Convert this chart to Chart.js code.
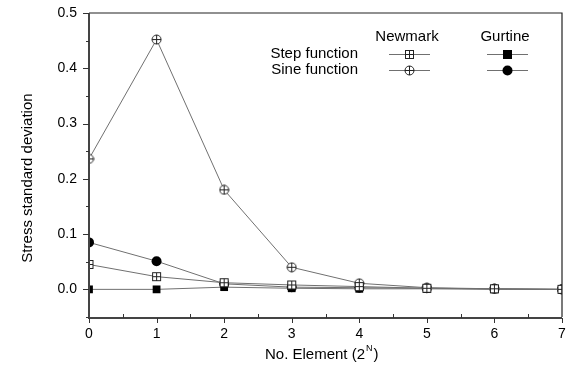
<!DOCTYPE html>
<html>
<head>
<meta charset="utf-8">
<script src="https://cdn.jsdelivr.net/npm/chart.js@4/dist/chart.umd.min.js"></script>
<style>
  html, body { margin: 0; padding: 0; background: #fff; }
  #wrap { width: 571px; height: 367px; position: relative; }
</style>
</head>
<body>
<div id="wrap"><canvas id="stressChart"></canvas></div>
<script>
// values
const elements = [0, 1, 2, 3, 4, 5, 6, 7];
const newmarkStep = [0.045, 0.023, 0.012, 0.008, 0.005, 0.002, 0.001, 0.0];
const newmarkSine = [0.236, 0.452, 0.180, 0.040, 0.011, 0.003, 0.001, 0.0];
const gurtineStep = [0.0, 0.0, 0.004, 0.002, 0.001, 0.001, 0.0, 0.0];
const gurtineSine = [0.085, 0.051, 0.010, 0.004, 0.003, 0.002, 0.001, 0.0];
const yTicks = [0.0, 0.1, 0.2, 0.3, 0.4, 0.5];
const xTicks = [0, 1, 2, 3, 4, 5, 6, 7];

const FONT = "'Liberation Sans', Arial, sans-serif";
const lineColor = "#707070";

// open markers with a cross inside
function makeMarker(kind) {
    let c = document.createElement("canvas");
    c.width = 11; c.height = 11;
    let g = c.getContext("2d");
    g.strokeStyle = "#222";
    g.lineWidth = 1;
    g.fillStyle = "#fff";
    if (kind === "square") {
        g.fillRect(1.5, 1.5, 8, 8);
        g.strokeRect(1.5, 1.5, 8, 8);
    } else {
        g.beginPath();
        g.arc(5.5, 5.5, 4.5, 0, Math.PI * 2);
        g.fill();
        g.stroke();
    }
    g.beginPath();
    g.moveTo(5.5, 1); g.lineTo(5.5, 10);
    g.moveTo(1, 5.5); g.lineTo(10, 5.5);
    g.stroke();
    return c;
}
const squareCross = makeMarker("square");
const circleCross = makeMarker("circle");

function toPoints(values) {
    return elements.map((x, i) => ({ x: x, y: values[i] }));
}

const frame = {
    id: "frame",
    afterDraw(chart) {
        let ctx = chart.ctx;
        let a = chart.chartArea;
        let xs = chart.scales.x, ys = chart.scales.y;
        ctx.save();
        // box
        ctx.strokeStyle = "#222";
        ctx.lineWidth = 1.2;
        ctx.beginPath();
        ctx.moveTo(a.left, a.top); ctx.lineTo(a.right, a.top); ctx.lineTo(a.right, a.bottom);
        ctx.stroke();
        ctx.strokeStyle = "#444";
        ctx.lineWidth = 2;
        ctx.beginPath();
        ctx.moveTo(a.left, a.top); ctx.lineTo(a.left, a.bottom + 1); ctx.lineTo(a.right, a.bottom + 1);
        ctx.stroke();
        // ticks
        ctx.lineWidth = 1;
        ctx.strokeStyle = "#333";
        ctx.beginPath();
        for (let v = 0; v <= 7; v += 0.5) {
            let px = Math.round(xs.getPixelForValue(v)) + 0.5;
            if (v % 1 === 0) { ctx.moveTo(px, a.bottom + 1); ctx.lineTo(px, a.bottom + 6); }
            else { ctx.moveTo(px, a.bottom + 1); ctx.lineTo(px, a.bottom - 3); }
        }
        for (let v = -0.05; v <= 0.5001; v += 0.05) {
            let py = Math.round(ys.getPixelForValue(v)) + 0.5;
            let major = Math.abs(Math.round(v * 10) - v * 10) < 1e-6;
            ctx.moveTo(a.left, py); ctx.lineTo(a.left - (major ? 6 : 3), py);
        }
        ctx.stroke();

        // axis titles
        ctx.fillStyle = "#000";
        ctx.font = "15px " + FONT;
        ctx.textBaseline = "middle";
        ctx.textAlign = "center";
        ctx.save();
        ctx.translate(28, 178);
        ctx.rotate(-Math.PI / 2);
        ctx.fillText("Stress standard deviation", 0, 0);
        ctx.restore();

        ctx.textAlign = "left";
        let main = "No. Element (2";
        let w = ctx.measureText(main).width;
        let x0 = 265;
        ctx.fillText(main, x0, 355);
        ctx.font = "9px " + FONT;
        ctx.fillText("N", x0 + w + 1, 349);
        let wn = ctx.measureText("N").width;
        ctx.font = "15px " + FONT;
        ctx.fillText(")", x0 + w + wn + 2, 355);

        // legend
        ctx.font = "15px " + FONT;
        ctx.textAlign = "center";
        ctx.fillText("Newmark", 407, 37);
        ctx.fillText("Gurtine", 505, 37);
        ctx.textAlign = "right";
        ctx.fillText("Step function", 358, 54);
        ctx.fillText("Sine function", 358, 70);

        ctx.strokeStyle = lineColor;
        ctx.lineWidth = 1;
        ctx.beginPath();
        [54, 70].forEach(y => {
            ctx.moveTo(389, y + 0.5); ctx.lineTo(430, y + 0.5);
            ctx.moveTo(487, y + 0.5); ctx.lineTo(528, y + 0.5);
        });
        ctx.stroke();
        ctx.drawImage(squareCross, 404, 49);
        ctx.drawImage(circleCross, 404, 65);
        ctx.fillStyle = "#000";
        ctx.fillRect(503, 50, 9, 9);
        ctx.beginPath();
        ctx.arc(507.5, 70.5, 5, 0, Math.PI * 2);
        ctx.fill();
        ctx.restore();
    }
};

const ctx = document.getElementById("stressChart").getContext("2d");
const chart = new Chart(ctx, {
    type: "line",
    data: {
        datasets: [
            {
                label: "Newmark Step function",
                data: toPoints(newmarkStep),
                borderColor: lineColor, borderWidth: 1, clip: 0,
                pointStyle: squareCross, pointRadius: 5
            },
            {
                label: "Newmark Sine function",
                data: toPoints(newmarkSine),
                borderColor: lineColor, borderWidth: 1, clip: 0,
                pointStyle: circleCross, pointRadius: 5
            },
            {
                label: "Gurtine Step function",
                data: toPoints(gurtineStep),
                borderColor: lineColor, borderWidth: 1, clip: 0,
                pointStyle: "rect", pointRadius: 5.5,
                pointBackgroundColor: "#000", pointBorderColor: "#000", pointBorderWidth: 0
            },
            {
                label: "Gurtine Sine function",
                data: toPoints(gurtineSine),
                borderColor: lineColor, borderWidth: 1, clip: 0,
                pointStyle: "circle", pointRadius: 5,
                pointBackgroundColor: "#000", pointBorderColor: "#000", pointBorderWidth: 0
            }
        ]
    },
    options: {
        responsive: true,
        maintainAspectRatio: false,
        animation: false,
        layout: { padding: { top: 13, right: 9, left: 0, bottom: 0 } },
        plugins: { legend: { display: false }, tooltip: { enabled: false } },
        scales: {
            x: {
                type: "linear",
                min: 0, max: 7,
                grid: { display: false, drawTicks: false },
                border: { display: false },
                afterBuildTicks: function(scale) {
                    scale.ticks = xTicks.map(v => ({ value: v }));
                },
                afterFit: function(scale) {
                    scale.height = 50;
                    scale.paddingLeft = 0; scale.paddingRight = 0;
                },
                ticks: {
                    font: { family: FONT, size: 14 }, color: "#000",
                    padding: 9, maxRotation: 0,
                    callback: function(value) { return String(value); }
                }
            },
            y: {
                min: -0.05, max: 0.5,
                grid: { display: false, drawTicks: false },
                border: { display: false },
                afterBuildTicks: function(scale) {
                    scale.ticks = yTicks.map(v => ({ value: v }));
                },
                afterFit: function(scale) {
                    scale.width = 89;
                    scale.paddingTop = 0; scale.paddingBottom = 0;
                },
                ticks: {
                    font: { family: FONT, size: 14 }, color: "#000",
                    padding: 12,
                    callback: function(value) { return value.toFixed(1); }
                }
            }
        }
    },
    plugins: [frame]
});
</script>
</body>
</html>
